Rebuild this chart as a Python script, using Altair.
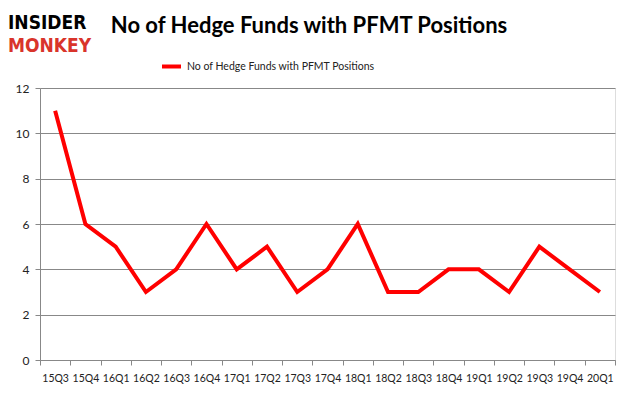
import altair as alt
import pandas as pd

quarters = ["15Q3", "15Q4", "16Q1", "16Q2", "16Q3", "16Q4", "17Q1", "17Q2", "17Q3", "17Q4",
            "18Q1", "18Q2", "18Q3", "18Q4", "19Q1", "19Q2", "19Q3", "19Q4", "20Q1"]
funds = [11, 6, 5, 3, 4, 6, 4, 5, 3, 4, 6, 3, 3, 4, 4, 3, 5, 4, 3]
series_name = "No of Hedge Funds with PFMT Positions"

df = pd.DataFrame({"quarter": quarters, "funds": funds, "series": series_name})
texts = pd.DataFrame({"t": ["INSIDER", "MONKEY", series_name]})

FONT = "Lato"

line = alt.Chart(df).mark_line(strokeWidth=4, clip=False).encode(
    x=alt.X("quarter:N", sort=quarters, title=None,
            scale=alt.Scale(paddingInner=0, paddingOuter=0),
            axis=alt.Axis(labelAngle=0, tickBand="extent", labelOverlap=False,
                          domainColor="#888888", tickColor="#888888", tickSize=5,
                          labelFont=FONT, labelFontSize=10.5, labelColor="#222222",
                          labelPadding=8, grid=False)),
    y=alt.Y("funds:Q", title=None,
            scale=alt.Scale(domain=[0, 12]),
            axis=alt.Axis(values=[0, 2, 4, 6, 8, 10, 12], domainColor="#888888",
                          tickColor="#888888", tickSize=5, gridColor="#888888",
                          labelFont=FONT, labelFontSize=12, labelColor="#222222",
                          labelPadding=6)),
    color=alt.Color("series:N", scale=alt.Scale(range=["#FF0000"]),
                    legend=alt.Legend(title=None, orient="none", legendX=120, legendY=-33,
                                      symbolType="stroke", symbolStrokeWidth=4,
                                      symbolSize=360, labelFont=FONT, labelFontSize=10.5,
                                      labelColor="#222222", labelLimit=400)),
)

logo_top = alt.Chart(texts).transform_filter("datum.t == 'INSIDER'").mark_text(
    font="DejaVu Sans Condensed", fontWeight="bold", fontSize=19, align="left",
    baseline="middle", color="black", clip=False
).encode(text="t:N", x=alt.value(-32), y=alt.value(-65))

logo_bot = alt.Chart(texts).transform_filter("datum.t == 'MONKEY'").mark_text(
    font="DejaVu Sans Condensed", fontWeight="bold", fontSize=19, align="left",
    baseline="middle", color="#D9342B", clip=False
).encode(text="t:N", x=alt.value(-32), y=alt.value(-42))

title = alt.Chart(texts).transform_filter("datum.t == '%s'" % series_name).mark_text(
    font=FONT, fontWeight="bold", fontSize=22, align="center", baseline="middle",
    color="black", clip=False
).encode(text="t:N", x=alt.value(269), y=alt.value(-62))

chart = alt.layer(line, logo_top, logo_bot, title).properties(
    width=575, height=272,
    autosize=alt.AutoSizeParams(type="none"),
    padding={"left": 32, "top": 80, "right": 13, "bottom": 37},
).configure_view(stroke=None).configure(background="white")

chart.save("out.html", embed_options={"renderer": "svg", "actions": False})
